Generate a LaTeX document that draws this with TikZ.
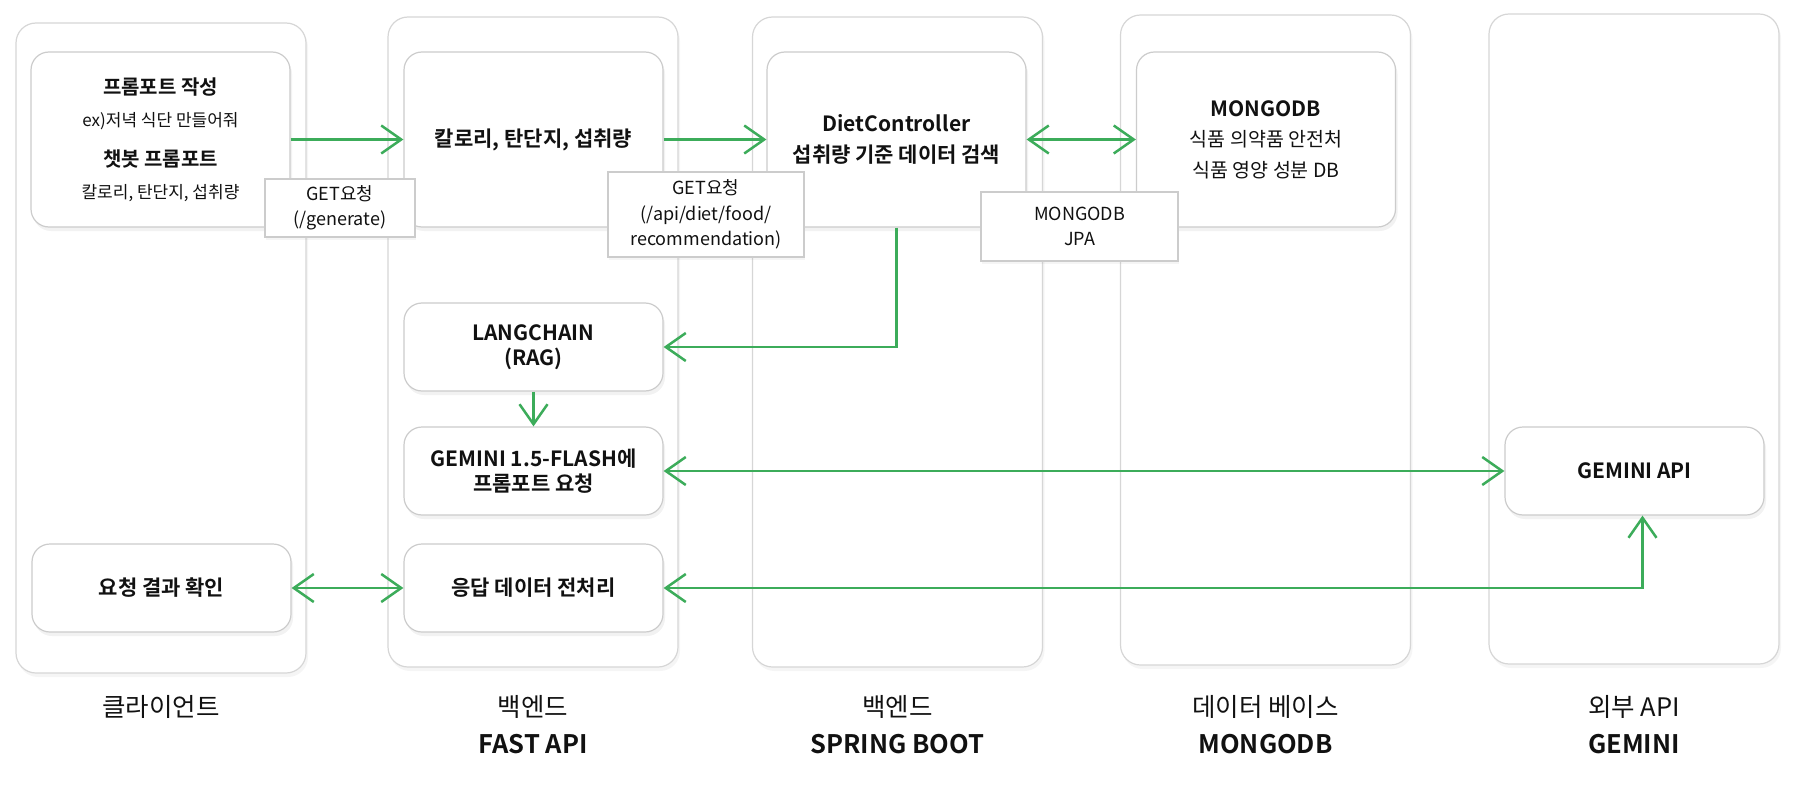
\documentclass[tikz,border=0pt]{standalone}
\usepackage{fontspec}
\setmainfont{Noto Sans CJK KR}[BoldFont={Noto Sans CJK KR Bold}]
\usetikzlibrary{arrows.meta,shadows}
\definecolor{lanegray}{RGB}{214,214,214}
\definecolor{boxgray}{RGB}{204,204,204}
\definecolor{flowgreen}{RGB}{60,172,90}
\definecolor{ink}{RGB}{17,17,17}
\tikzset{
	lane/.style={
		draw = lanegray,
		line width = 1.2pt,
		fill = white,
		rounded corners = 20pt,
		minimum width = 290pt,
		minimum height = 650pt,
		drop shadow = {opacity = 0.08, shadow xshift = 2pt, shadow yshift = -4pt}
	},
	block/.style={
		draw = boxgray,
		line width = 1.2pt,
		fill = white,
		rounded corners = 18pt,
		minimum width = 259pt,
		align = center,
		text = ink,
		font = \fontsize{21}{25}\selectfont\bfseries,
		drop shadow = {opacity = 0.1, shadow xshift = 2pt, shadow yshift = -4pt}
	},
	tall/.style={minimum height = 175pt},
	short/.style={minimum height = 88pt},
	tag/.style={
		draw = boxgray,
		line width = 1.2pt,
		fill = white,
		inner sep = 0pt,
		align = center,
		text = ink,
		font = \fontsize{18}{25.5}\selectfont,
		drop shadow = {opacity = 0.08, shadow xshift = 1pt, shadow yshift = -3pt}
	},
	caption/.style={
		anchor = north,
		inner sep = 0pt,
		align = center,
		text = ink,
		font = \fontsize{25.5}{37}\selectfont
	},
	flow/.style={
		draw = flowgreen,
		line width = 2.5pt
	},
}
\tikzset{>={Straight Barb[length=20pt,width=28pt]}}

\begin{document}
\begin{tikzpicture}[x=1pt, y=-1pt]
  \useasboundingbox (0,0) rectangle (1809,805);
  \foreach \x/\y/\name/\cap in {161/348/client/{클라이언트}, 533/342/fastapi/{백엔드\\\textbf{FAST API}}, 897.5/342/spring/{백엔드\\\textbf{SPRING BOOT}}, 1265.5/340/mongo/{데이터 베이스\\\textbf{MONGODB}}, 1634/339/external/{외부 API\\\textbf{GEMINI}}}{
    \node[lane] (\name) at (\x,\y) {};
    \node[caption] (\name-cap) at (\x,695) {\cap};
  }

  \node[block, tall, font=\fontsize{17}{32}\selectfont] (prompt) at (160.5,139.5) {{\fontsize{20}{32}\selectfont\bfseries 프롬포트 작성}\\ex)저녁 식단 만들어줘\\[8pt]{\fontsize{20}{32}\selectfont\bfseries 챗봇 프롬포트}\\칼로리, 탄단지, 섭취량};
  \node[block, tall] (intake) at (533.5,139.5) {칼로리, 탄단지, 섭취량};
  \node[block, tall, font=\fontsize{21}{31}\selectfont\bfseries] (diet) at (896.5,139.5) {DietController\\섭취량 기준 데이터 검색};
  \node[block, tall, font=\fontsize{19.5}{30.5}\selectfont] (mongodb) at (1266,139.5) {{\fontsize{21}{30.5}\selectfont\bfseries MONGODB}\\식품 의약품 안전처\\식품 영양 성분 DB};
  \node[block, short] (langchain) at (533.5,347) {LANGCHAIN\\(RAG)};
  \node[block, short] (flash) at (533.5,471) {GEMINI 1.5-FLASH에\\프롬포트 요청};
  \node[block, short] (response) at (533.5,588) {응답 데이터 전처리};
  \node[block, short] (result) at (161.5,588) {요청 결과 확인};
  \node[block, short] (gemini) at (1634.5,471) {GEMINI API};

  \draw[flow, ->] (prompt.east) -- (intake.west);
  \draw[flow, ->] (intake.east) -- (diet.west);
  \draw[flow, <->] (diet.east) -- (mongodb.west);
  \draw[flow, ->] (diet.south) |- (langchain.east);
  \draw[flow, ->] (langchain.south) -- (flash.north);
  \draw[flow, <->] (flash.east) -- (gemini.west);
  \draw[flow, <->] (result.east) -- (response.west);
  \draw[flow, <->] (response.east) -| ([xshift=8pt]gemini.south);

  \node[tag, minimum width=150pt, minimum height=58pt] (get1) at (340,208) {GET요청\\(/generate)};
  \node[tag, minimum width=196pt, minimum height=85pt] (get2) at (706,214.5) {GET요청\\(/api/diet/food/\\recommendation)};
  \node[tag, minimum width=197pt, minimum height=69pt] (jpa) at (1079.5,226.5) {MONGODB\\JPA};
\end{tikzpicture}
\end{document}
